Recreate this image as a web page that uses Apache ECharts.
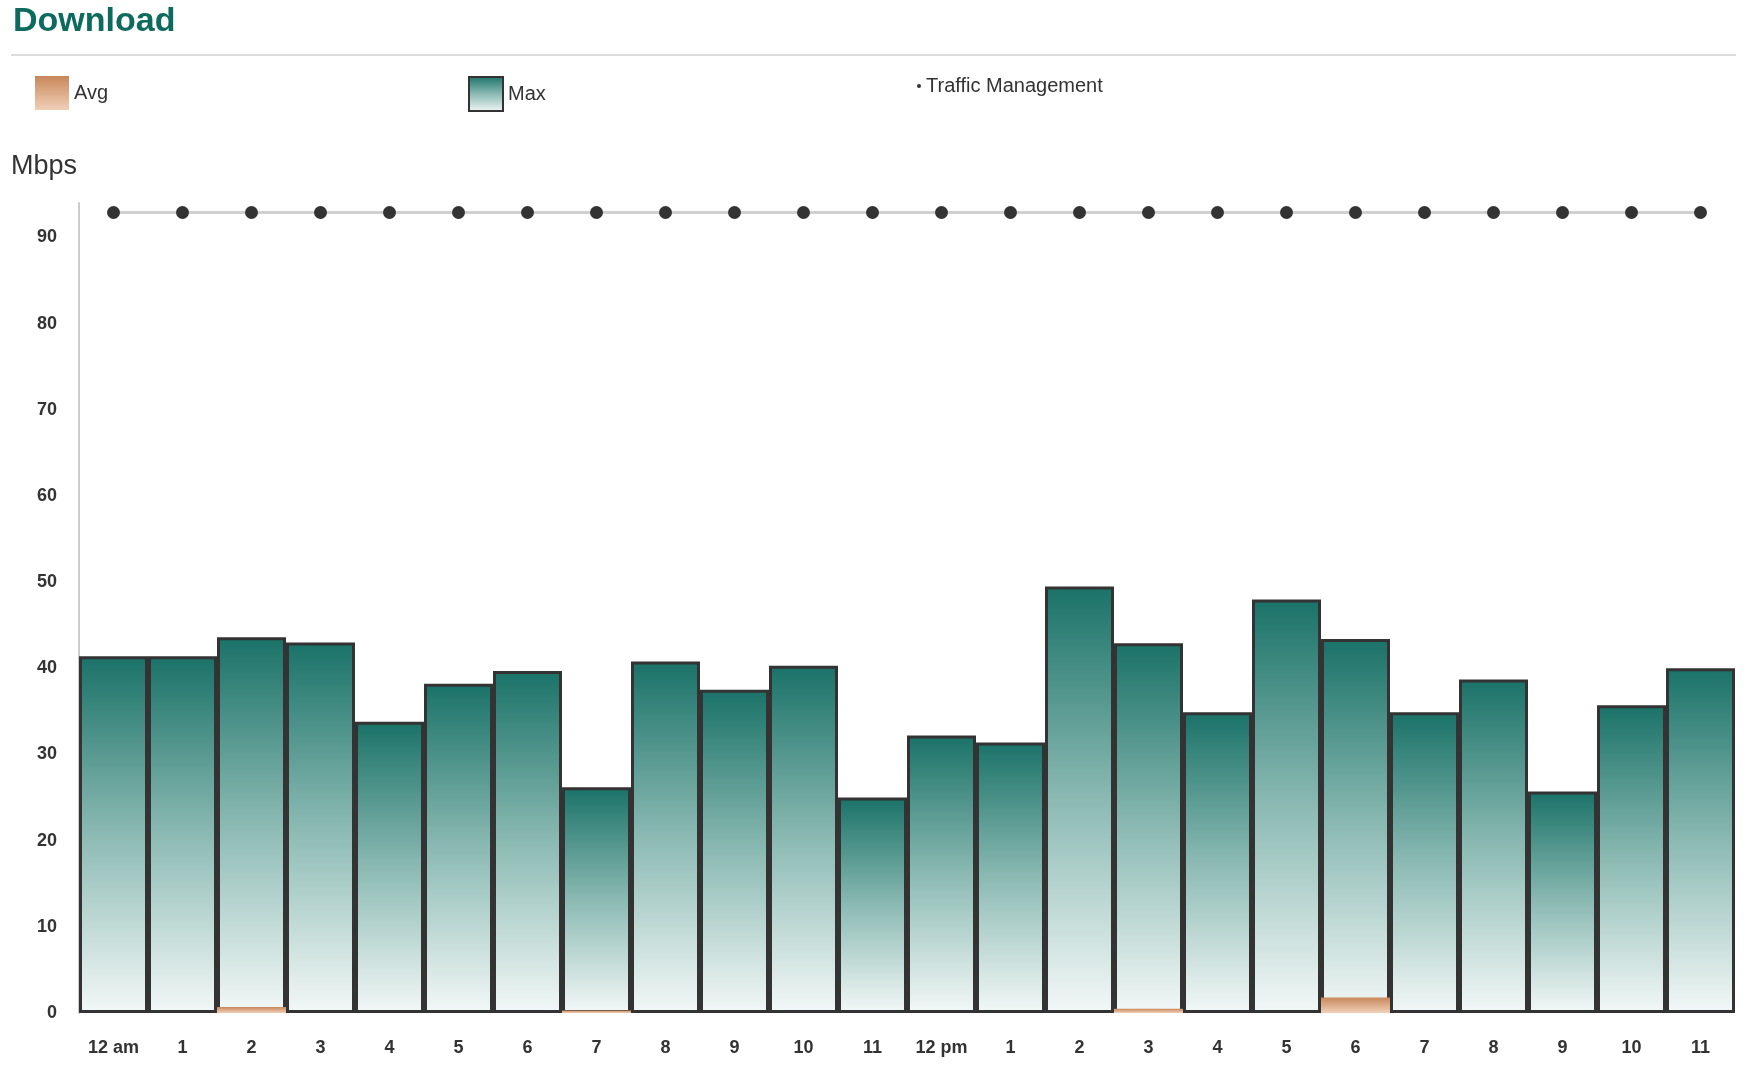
<!DOCTYPE html>
<html><head><meta charset="utf-8">
<script src="https://cdn.jsdelivr.net/npm/echarts@6/dist/echarts.min.js"></script>
<style>html,body{margin:0;padding:0;background:#fff}#c{width:1752px;height:1074px}</style>
</head><body><div id="c"></div>
<script>
const categories = ['12 am','1','2','3','4','5','6','7','8','9','10','11','12 pm','1','2','3','4','5','6','7','8','9','10','11'];
const maxValues = [41.4,41.4,43.6,43.0,33.8,38.2,39.7,26.2,40.8,37.5,40.3,25.0,32.2,31.4,49.5,42.9,34.9,48.0,43.4,34.9,38.7,25.7,35.7,40.0];
const avgValues = [0,0,0.7,0,0,0,0,0.3,0,0,0,0,0,0,0,0.5,0,0,1.8,0,0,0,0,0];
const trafficValues = [92.9,92.9,92.9,92.9,92.9,92.9,92.9,92.9,92.9,92.9,92.9,92.9,92.9,92.9,92.9,92.9,92.9,92.9,92.9,92.9,92.9,92.9,92.9,92.9];

const chart = echarts.init(document.getElementById('c'));
const font = 'Helvetica, Arial, "Liberation Sans", sans-serif';
chart.setOption({
  animation:false,
  textStyle:{fontFamily:font},
  title:{text:'Download',left:8,top:0,textStyle:{color:'#0d6b5e',fontSize:34,fontWeight:'bold',fontFamily:font}},
  legend:[
    {data:[{name:'Avg',icon:'rect'}],left:30,top:71,itemWidth:34,itemHeight:34,itemGap:16,textStyle:{fontSize:20,color:'#333',padding:[0,0,14,0]}},
    {data:[{name:'Max',icon:'rect'}],left:463,top:71,itemWidth:34,itemHeight:34,textStyle:{fontSize:20,color:'#333',padding:[0,0,14,0]}},
    {data:[{name:'Traffic Management',icon:'circle'}],left:912,top:71,itemWidth:4,itemHeight:4,itemGap:4,textStyle:{fontSize:20,color:'#333',padding:[0,0,14,0]}}
  ],
  graphic:[
    {type:'line',shape:{x1:11,y1:55,x2:1736,y2:55},style:{stroke:'#dcdcdc',lineWidth:2}},
    {type:'text',left:11,top:153,style:{text:'Mbps',fontSize:27,fill:'#333',fontFamily:font}}
  ],
  grid:{left:79,right:17,top:203,bottom:61},
  xAxis:{type:'category',data:categories,axisLine:{show:false},axisTick:{show:false},
    axisLabel:{margin:26,fontSize:18,fontWeight:'bold',color:'#333'}},
  yAxis:{type:'value',min:0,max:94,interval:10,splitLine:{show:false},
    axisLine:{show:true,lineStyle:{color:'#cccccc',width:2}},axisTick:{show:false},
    axisLabel:{margin:22,fontSize:18,fontWeight:'bold',color:'#333',showMaxLabel:false}},
  series:[
    {name:'Max',type:'bar',data:maxValues,barCategoryGap:'0%',barGap:'-100%',
      itemStyle:{borderColor:'#333',borderWidth:3,
        color:new echarts.graphic.LinearGradient(0,0,0,1,[{offset:0,color:'#1a7268'},{offset:0.5,color:'#8bbab3'},{offset:1,color:'#f3f8f7'}])}},
    {name:'Avg',type:'bar',data:avgValues,barGap:'-100%',barCategoryGap:'0%',z:3,
      itemStyle:{color:new echarts.graphic.LinearGradient(0,0,0,1,[{offset:0,color:'#c8875a'},{offset:1,color:'#f0d0b8'}]),borderWidth:0}},
    {name:'Traffic Management',type:'line',data:trafficValues,symbol:'circle',symbolSize:13,
      lineStyle:{color:'#d0d0d0',width:3},itemStyle:{color:'#333'},z:4}
  ],
  color:['#0d6b5e','#a04512','#333']
});
// legend icon colors
chart.setOption({series:[{},{},{}]});
</script></body></html>
